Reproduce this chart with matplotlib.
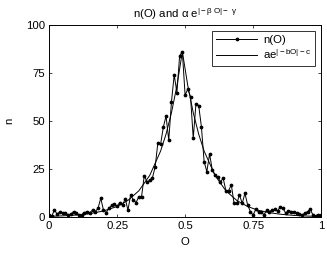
import numpy as np
import matplotlib
matplotlib.use("Agg")
import matplotlib.pyplot as plt

plt.rcParams['font.family'] = ['Liberation Sans', 'DejaVu Sans']
plt.rcParams['mathtext.fontset'] = 'custom'
plt.rcParams['mathtext.rm'] = 'Liberation Sans'
plt.rcParams['mathtext.it'] = 'Liberation Sans'
plt.rcParams['mathtext.bf'] = 'Liberation Sans'

# measured series n(O)
o_values = [round(i * 0.01, 2) for i in range(101)]
n_values = [1.0, 0.5, 3.6, 1.4, 2.8, 1.9, 2.2, 1.0, 1.4, 2.8,
            2.2, 1.0, 1.2, 2.2, 2.8, 2.2, 3.6, 2.8, 4.5, 9.7,
            3.6, 2.2, 4.5, 6.0, 6.5, 5.5, 7.5, 6.0, 9.5, 3.5,
            11.5, 8.8, 7.5, 10.6, 10.6, 21.5, 18.3, 19.0, 20.4, 26.0,
            38.7, 37.8, 46.7, 52.6, 40.0, 60.0, 74.0, 64.7, 84.0, 86.0,
            63.5, 66.5, 62.7, 41.0, 59.0, 58.0, 47.0, 28.8, 23.6, 32.8,
            24.5, 21.9, 20.7, 18.4, 20.1, 13.7, 13.7, 16.7, 7.0, 7.0,
            11.5, 7.0, 12.3, 6.2, 2.8, 1.0, 4.0, 2.5, 2.8, 1.0,
            3.6, 2.8, 3.6, 4.0, 3.0, 5.4, 4.5, 1.9, 3.3, 2.8,
            2.8, 1.9, 1.5, 1.0, 1.9, 2.8, 4.0, 1.0, 0.5, 1.0, 1.0]

# fitted curve a*exp(|-bO|-c)
fit_o = [0.00, 0.05, 0.10, 0.15, 0.20, 0.25, 0.29, 0.33, 0.37, 0.41, 0.43, 0.45, 0.47,
         0.49, 0.51, 0.53, 0.55, 0.57, 0.61, 0.65, 0.69, 0.73, 0.77, 0.81, 0.85,
         0.90, 0.95, 1.00]
fit_n = [0.3, 0.55, 0.97, 1.7, 3.1, 5.4, 8.6, 13.6, 21.6, 34.3, 43.1, 54.3, 68.3,
         86.0, 68.3, 54.3, 43.1, 34.3, 21.6, 13.6, 8.6, 5.4, 3.4, 2.2, 1.4,
         0.77, 0.43, 0.24]

x_ticks = [0, 0.25, 0.5, 0.75, 1]
x_tick_labels = ['0', '0.25', '0.5', '0.75', '1']
y_ticks = [0, 25, 50, 75, 100]
y_tick_labels = ['0', '25', '50', '75', '100']

fs = 8.2
fig = plt.figure(figsize=(3.27, 2.57), dpi=100)
ax = fig.add_axes([0.150, 0.156, 0.832, 0.747])

ax.plot(o_values, n_values, color='black', lw=0.7, marker='o', ms=1.7,
        label='n(O)')
ax.plot(fit_o, fit_n, color='black', lw=0.7, label=r'ae$^{|-\mathrm{bO}|-\mathrm{c}}$')

ax.set_xlim(0, 1)
ax.set_ylim(0, 100)
ax.set_xticks(x_ticks)
ax.set_xticklabels(x_tick_labels)
ax.set_yticks(y_ticks)
ax.set_yticklabels(y_tick_labels)
ax.tick_params(direction='in', top=True, right=True, length=2.5, width=0.5,
               labelsize=fs, pad=3)
for s in ax.spines.values():
    s.set_linewidth(0.7)

ax.set_xlabel('O', fontsize=fs, labelpad=4)
ax.set_ylabel('n', fontsize=fs, labelpad=8)
ax.set_title(r'n(O) and $\alpha$ e$^{|-\beta\ \mathrm{O}|-\ \gamma}$', fontsize=fs, pad=5)

leg = ax.legend(loc='upper right', fontsize=fs, handlelength=3.6, frameon=True,
                fancybox=False, edgecolor='black', borderaxespad=0.5,
                handletextpad=0.5, labelspacing=0.2, borderpad=0.4)
leg.get_frame().set_linewidth(0.7)

fig.savefig('out.png', dpi=100)
